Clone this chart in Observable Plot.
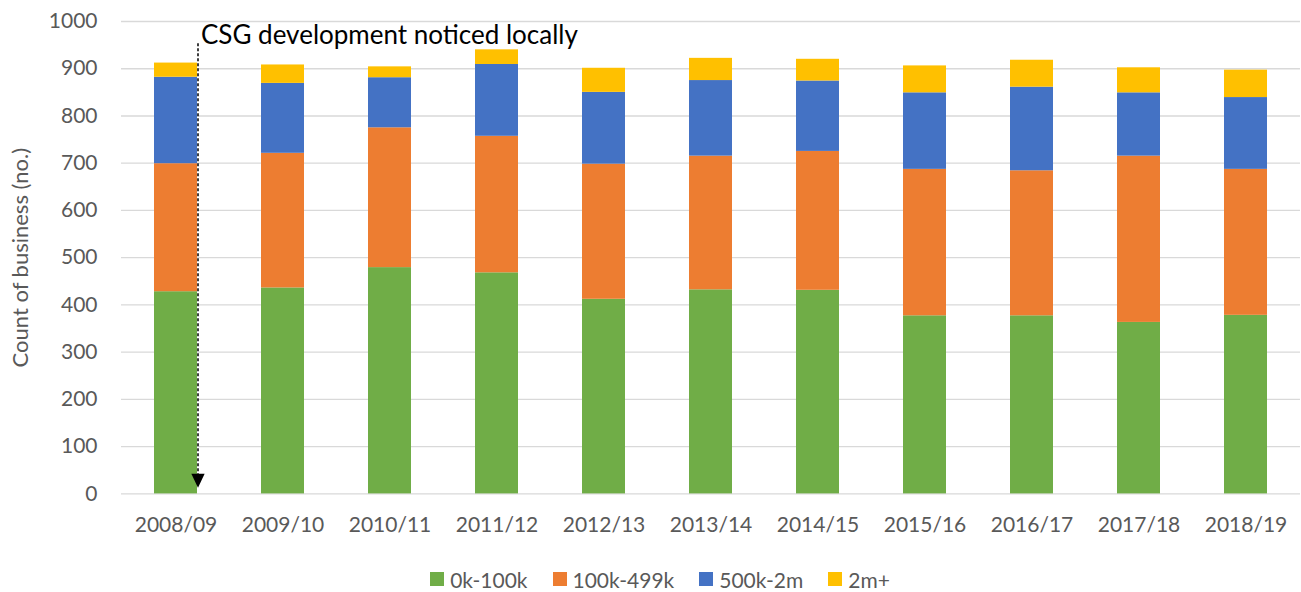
<!DOCTYPE html>
<html><head><meta charset="utf-8">
<script src="https://cdn.jsdelivr.net/npm/d3@7"></script>
<script src="https://cdn.jsdelivr.net/npm/@observablehq/plot@0.6"></script>
<style>
body{margin:0;background:#fff;font-family:Lato,sans-serif;}
#legend{display:flex;justify-content:center;align-items:center;gap:25px;height:24px;margin-top:7px;padding-left:19px;font-size:21px;color:#595959;}
#legend .item{display:flex;align-items:center;gap:6px;}
#legend .sw{width:14px;height:14px;display:inline-block;}
</style></head><body><div id="chart"></div><div id="legend"></div>
<script>
const years = ["2008/09","2009/10","2010/11","2011/12","2012/13","2013/14","2014/15","2015/16","2016/17","2017/18","2018/19"];
const series = ["0k-100k","100k-499k","500k-2m","2m+"];
const colors = ["#70ad47","#ed7d31","#4472c4","#ffc000"];
const band0to100k   = [428,436,479,468,412,432,431,377,377,363,378];
const band100to499k = [271,285,296,289,286,283,294,310,307,352,309];
const band500kto2m  = [183,148,106,152,152,160,149,162,177,134,152];
const band2mPlus    = [30,39,23,31,51,47,46,57,57,53,58];
const yTicks = [0,100,200,300,400,500,600,700,800,900,1000];
const yTitle = "Count of business (no.)";
const annotationText = "CSG development noticed locally";
const annotationYear = "2008/09";
const annotationTop = 953, annotationBottom = 40, arrowHeadY = 28, annotationTextY = 971;

const seriesValues = [band0to100k, band100to499k, band500kto2m, band2mPlus];
const data = years.flatMap((yr,i)=>series.map((s,j)=>({year:yr, series:s, value:seriesValues[j][i]})));

const downTriangle = {draw(ctx, size){const r=Math.sqrt(size/Math.PI); ctx.moveTo(-r*0.95,-r); ctx.lineTo(r*0.95,-r); ctx.lineTo(0,r); ctx.closePath();}};

const chart = Plot.plot({
  width:1301, height:560, marginLeft:121, marginRight:1, marginTop:21, marginBottom:66.6,
  style:{fontFamily:"Lato, sans-serif", fontSize:"21px", color:"#595959", background:"#fff"},
  x:{domain:years, paddingInner:0.6, paddingOuter:0.3, label:null},
  y:{domain:[0,1000], label:null},
  color:{domain:series, range:colors},
  marks:[
    Plot.gridY(yTicks, {stroke:"#d9d9d9", strokeOpacity:1, strokeWidth:1.3}),
    Plot.barY(data, {x:"year", y:"value", fill:"series", order:series}),
    Plot.axisX({tickSize:0, tickPadding:23, fontSize:21, fill:"#595959", label:null}),
    Plot.axisY(yTicks, {tickSize:0, tickPadding:24, fontSize:21, fill:"#595959", label:null, tickFormat:d3.format("d")}),
    Plot.text([yTitle], {frameAnchor:"left", text:d=>d, rotate:-90, dx:-101, textAnchor:"middle", fontSize:22, fill:"#595959"}),
    Plot.ruleX([annotationYear], {x:d=>d, y1:annotationTop, y2:annotationBottom, dx:22, stroke:"#000", strokeWidth:1.5, strokeDasharray:"3,2"}),
    Plot.dot([annotationYear], {x:d=>d, y:arrowHeadY, dx:22, symbol:downTriangle, r:7, fill:"#000", stroke:null}),
    Plot.text([annotationText], {x:()=>annotationYear, y:annotationTextY, text:d=>d, dx:25, textAnchor:"start", fontSize:26, fill:"#000"})
  ]
});
document.getElementById("chart").appendChild(chart);
const lg = document.getElementById("legend");
series.forEach((s,i)=>{const it=document.createElement("span");it.className="item";it.innerHTML=`<span class="sw" style="background:${colors[i]}"></span><span>${s}</span>`;lg.appendChild(it);});
</script></body></html>
